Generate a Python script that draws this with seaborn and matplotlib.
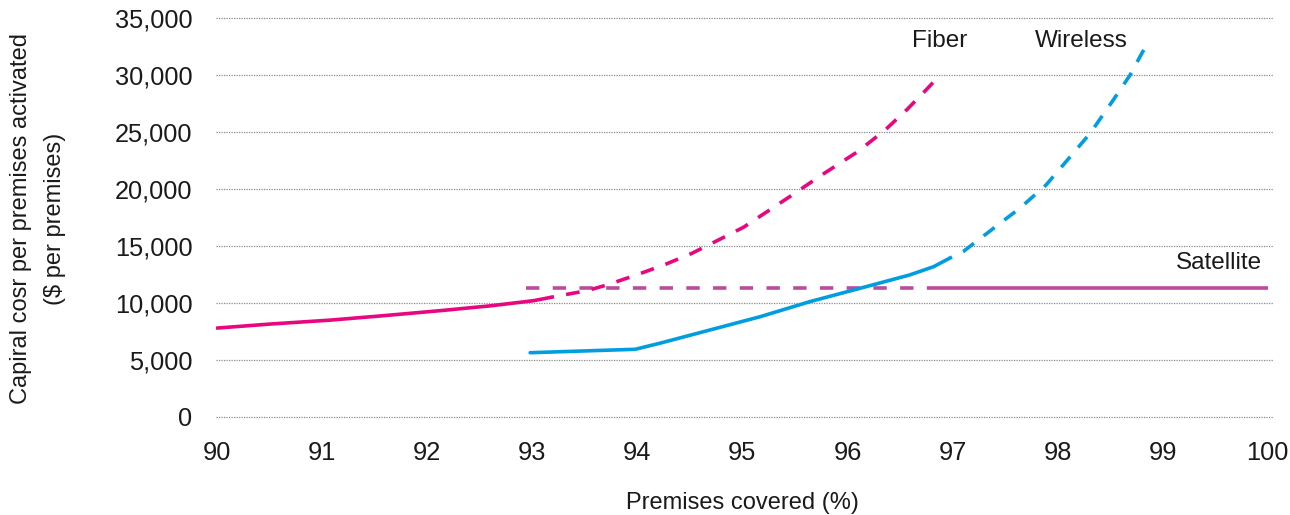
import matplotlib
matplotlib.use("Agg")
import matplotlib.pyplot as plt
import seaborn as sns
import numpy as np

# ---- data ----
fiber_solid_x = [90.0, 90.5, 91.08, 91.6, 92.12, 92.6, 93.01, 93.18]
fiber_solid_y = [7800, 8150, 8500, 8900, 9325, 9750, 10200, 10500]

fiber_dash_x = [93.18, 93.33, 93.52, 93.71, 93.99, 94.27, 94.52, 94.76, 95.01,
                95.45, 95.75, 96.10, 96.36, 96.57, 96.77, 96.88]
fiber_dash_y = [10500, 10760, 11080, 11580, 12456, 13400, 14360, 15470, 16640,
                19325, 21200, 23290, 25190, 27000, 28900, 30000]

wireless_solid_x = [92.98, 93.98, 94.21, 94.69, 95.17, 95.64, 96.12, 96.59, 96.82, 96.97]
wireless_solid_y = [5640, 5940, 6460, 7630, 8800, 10115, 11290, 12456, 13185, 13920]

wireless_dash_x = [96.97, 97.1, 97.36, 97.64, 97.89, 98.12, 98.31, 98.53, 98.69, 98.81, 98.87]
wireless_dash_y = [13920, 14500, 16340, 18310, 20350, 22830, 24890, 27810, 30000, 32045, 32830]

satellite_dash_x = [92.94, 96.85]
satellite_dash_y = [11350, 11350]
satellite_solid_x = [96.85, 100.0]
satellite_solid_y = [11350, 11350]

x_ticks = list(range(90, 101))
y_ticks = list(range(0, 35001, 5000))

series_labels = ["Fiber", "Wireless", "Satellite"]
label_x = [96.88, 98.23, 99.54]
label_y = [32980, 32980, 13535]

FIBER = "#E8077F"
WIRELESS = "#009EE0"
SATELLITE = "#BA4B9D"
TEXT = "#1a1a1a"

sns.set_theme(style="white")
plt.rcParams["font.family"] = ["Liberation Sans", "DejaVu Sans"]

fig = plt.figure(figsize=(12.9, 5.15), dpi=100)
ax = fig.add_axes([216 / 1290, 1 - 417 / 515, (1273 - 216) / 1290, (417 - 18) / 515])

lw = 2.6
sns.lineplot(x=satellite_dash_x, y=satellite_dash_y, ax=ax, color=SATELLITE,
             linewidth=lw, linestyle=(0, (3.7, 3.7)))
sns.lineplot(x=satellite_solid_x, y=satellite_solid_y, ax=ax, color=SATELLITE,
             linewidth=lw, solid_capstyle="butt")
sns.lineplot(x=fiber_solid_x, y=fiber_solid_y, ax=ax, color=FIBER, linewidth=lw)
sns.lineplot(x=fiber_dash_x, y=fiber_dash_y, ax=ax, color=FIBER, linewidth=lw,
             linestyle=(3, (3.8, 3.4)))
sns.lineplot(x=wireless_solid_x, y=wireless_solid_y, ax=ax, color=WIRELESS, linewidth=lw)
sns.lineplot(x=wireless_dash_x, y=wireless_dash_y, ax=ax, color=WIRELESS, linewidth=lw,
             linestyle=(3, (3.8, 3.4)))

ax.set_xlim(89.99, 100.05)
ax.set_ylim(0, 35000)
ax.set_xticks(x_ticks)
ax.set_yticks(y_ticks)
ax.set_xticklabels([str(v) for v in x_ticks])
ax.set_yticklabels([f"{v:,}" for v in y_ticks])
ax.tick_params(axis="both", length=0, labelsize=18.3, colors=TEXT)
ax.tick_params(axis="x", pad=17)
ax.tick_params(axis="y", pad=17)
for s in ax.spines.values():
    s.set_visible(False)
ax.grid(False)
for v in y_ticks:
    ax.axhline(v, color="#8a8a8a", linewidth=0.9, linestyle=(0, (1, 1)),
               zorder=0, clip_on=False)

for name, lx, ly in zip(series_labels, label_x, label_y):
    ax.text(lx, ly, name, ha="center", va="center", fontsize=17.5, color=TEXT)

ax.set_xlabel("")
ax.set_ylabel("")
fig.text(38 / 1290, 1 - 219 / 515,
         "Capiral cosr per premises activated\n($ per premises)",
         rotation=90, ha="center", va="center", multialignment="center",
         fontsize=17, color=TEXT, linespacing=1.7)
fig.text(742 / 1290, 1 - 503 / 515, "Premises covered (%)",
         ha="center", va="center", fontsize=17, color=TEXT)

fig.savefig("out.png", dpi=100, facecolor="white")
